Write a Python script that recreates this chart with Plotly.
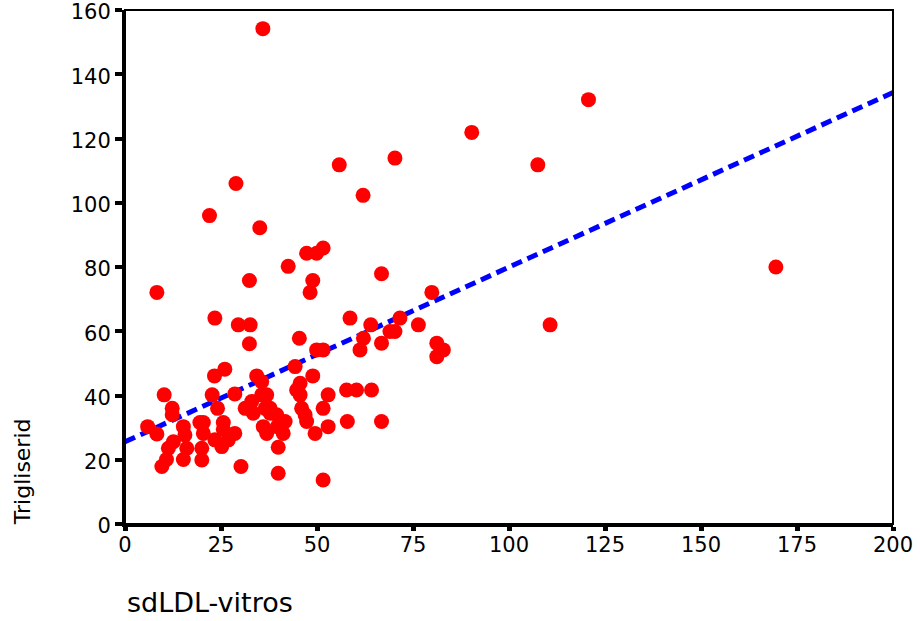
import plotly.graph_objects as go

# sdLDL-vitros (x) and Trigliserid (y) values
sdldl = [
    35.9, 120.7, 90.3, 70.3, 55.8, 107.5, 28.9, 62.0, 22.0, 35.1,
    51.6, 49.9, 47.3, 42.5, 66.8, 32.4, 48.9, 48.2, 79.9, 8.3, 169.5,
    58.6, 64.0, 71.6, 76.4, 69.0, 70.3, 62.1, 45.4, 66.8, 81.2, 82.9, 81.2,
    61.2, 49.9, 51.6, 110.7,
    23.4, 29.5, 32.6, 32.4,
    26.0, 23.3, 34.3, 35.6, 44.3, 48.9, 45.6,
    44.7, 45.6, 52.9, 57.7, 60.3, 64.2, 36.9,
    37.8, 39.5, 46.0, 46.9, 51.6, 41.7, 47.3, 57.9, 66.8, 52.9, 36.0, 36.9,
    41.2, 49.5, 39.9, 39.9, 51.6,
    10.2, 22.7, 28.6, 12.3, 12.3, 24.1, 5.9, 8.3, 15.2, 19.5, 20.4, 25.6,
    25.6, 28.6, 15.6, 20.4, 12.6, 23.4, 26.9, 25.2, 11.3, 16.1, 20.0, 10.8,
    15.2, 20.0, 9.6, 30.2, 31.3, 33.0, 33.4, 35.6, 36.5, 37.8, 39.7,
]
trigliserid = [
    154.2, 132.1, 121.9, 113.9, 111.8, 111.8, 106.0, 102.3, 96.0, 92.2,
    85.9, 84.3, 84.3, 80.2, 77.9, 75.8, 75.8, 72.1, 72.1, 72.1, 80.0,
    64.1, 62.0, 64.1, 62.0, 59.9, 59.9, 57.8, 57.8, 56.3, 56.3, 54.2, 52.1,
    54.2, 54.2, 54.2, 62.0,
    64.1, 62.0, 62.0, 56.1,
    48.2, 46.1, 46.1, 44.3, 49.0, 46.1, 43.8,
    41.7, 40.2, 40.2, 41.7, 41.7, 41.7, 40.2,
    36.0, 34.0, 36.0, 34.0, 36.0, 31.9, 31.9, 31.9, 31.9, 30.3, 30.3, 28.2,
    28.2, 28.2, 23.9, 15.8, 13.7,
    40.2, 40.2, 40.5, 36.0, 34.0, 36.0, 30.3, 28.0, 30.3, 31.6, 31.6, 31.6,
    29.5, 28.2, 27.7, 28.2, 25.6, 26.2, 26.2, 24.1, 23.6, 23.6, 23.6, 20.1,
    20.1, 19.9, 17.9, 17.9, 36.0, 38.1, 34.5, 40.2, 36.0, 34.5, 30.3,
]

# fitted line end points
fit_x = [0, 200]
fit_y = [25.6, 134.3]

x_ticks = [0, 25, 50, 75, 100, 125, 150, 175, 200]
y_ticks = [0, 20, 40, 60, 80, 100, 120, 140, 160]

FONT = "DejaVu Sans"

fig = go.Figure()
fig.add_trace(go.Scatter(
    x=fit_x, y=fit_y, mode="lines",
    line=dict(color="#0000ff", width=5, dash="11px,6px"),
    hoverinfo="skip", showlegend=False,
))
fig.add_trace(go.Scatter(
    x=sdldl, y=trigliserid, mode="markers",
    marker=dict(color="#ff0000", size=15, symbol="circle", line=dict(width=0)),
    showlegend=False,
))

fig.update_layout(
    width=920, height=621,
    margin=dict(l=125, r=27, t=10, b=97),
    paper_bgcolor="white", plot_bgcolor="white",
    font=dict(family=FONT, size=21, color="black"),
    showlegend=False,
    xaxis=dict(
        range=[0, 200], tickvals=x_ticks, ticktext=[str(v) for v in x_ticks],
        showgrid=False, zeroline=False, automargin=False,
        showline=True, linecolor="black", linewidth=3,
        ticks="outside", ticklen=4, tickwidth=5, tickcolor="black",
        ticklabeloverflow="allow", ticklabelstandoff=-4,
        tickfont=dict(family=FONT, size=21, color="black"),
    ),
    yaxis=dict(
        range=[0, 160], tickvals=y_ticks, ticktext=[str(v) for v in y_ticks],
        showgrid=False, zeroline=False, automargin=False,
        showline=True, linecolor="black", linewidth=3,
        ticks="outside", ticklen=7, tickwidth=4, tickcolor="black",
        ticklabeloverflow="allow", ticklabelshift=2,
        tickfont=dict(family=FONT, size=21, color="black"),
    ),
    shapes=[dict(type="rect", xref="paper", yref="paper", x0=0, x1=1, y0=0, y1=1,
                 line=dict(color="black", width=2), fillcolor="rgba(0,0,0,0)", layer="above")],
    annotations=[
        dict(text="sdLDL-vitros", xref="paper", yref="paper", x=0, y=-0.152,
             xanchor="left", yanchor="middle", showarrow=False,
             font=dict(family=FONT, size=27, color="black")),
        dict(text="Trigliserid", xref="paper", yref="paper", x=-0.134, y=0.101,
             xanchor="center", yanchor="middle", textangle=-90, showarrow=False,
             font=dict(family=FONT, size=22, color="black")),
    ],
)

fig.write_html("out.html", config={"displayModeBar": False},
               post_script="document.body.style.margin='0px';")
